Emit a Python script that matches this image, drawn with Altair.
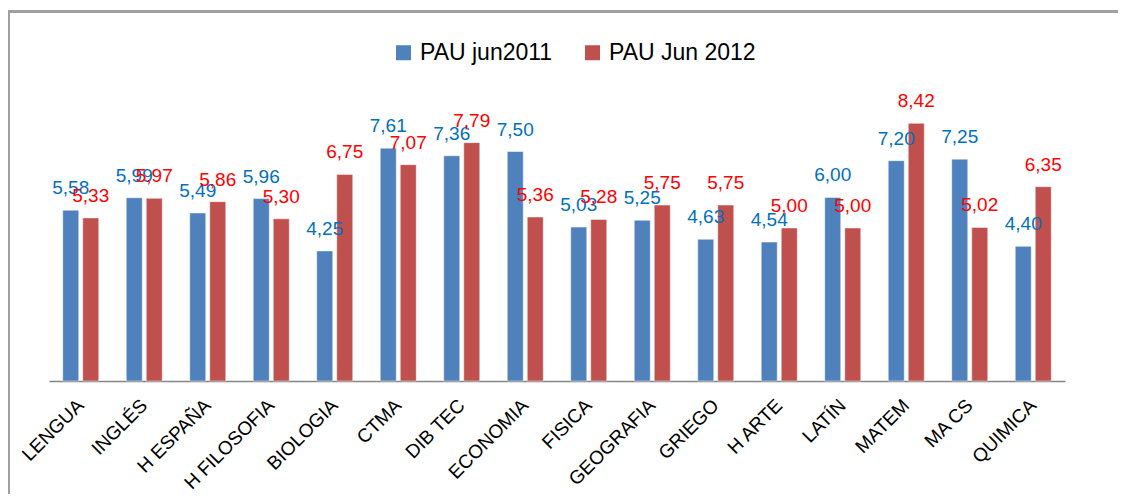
import altair as alt
import pandas as pd

categories = ["LENGUA", "INGLÉS", "H ESPAÑA", "H FILOSOFIA", "BIOLOGIA", "CTMA",
              "DIB TEC", "ECONOMIA", "FISICA", "GEOGRAFIA", "GRIEGO", "H ARTE",
              "LATÍN", "MATEM", "MA CS", "QUIMICA"]
series_names = ["PAU jun2011", "PAU Jun 2012"]
pau_2011 = [5.58, 5.99, 5.49, 5.96, 4.25, 7.61, 7.36, 7.50, 5.03, 5.25, 4.63, 4.54,
            6.00, 7.20, 7.25, 4.40]
pau_2012 = [5.33, 5.97, 5.86, 5.30, 6.75, 7.07, 7.79, 5.36, 5.28, 5.75, 5.75, 5.00,
            5.00, 8.42, 5.02, 6.35]

rows = []
for c, a, b in zip(categories, pau_2011, pau_2012):
    rows.append({"cat": c, "serie": series_names[0], "v": a})
    rows.append({"cat": c, "serie": series_names[1], "v": b})
df = pd.DataFrame(rows)

FONT = "Liberation Sans"
bar_colors = ["#4F81BD", "#C0504D"]
label_colors = ["#0070C0", "#FF0000"]

x = alt.X("cat:N", sort=categories,
          scale=alt.Scale(paddingInner=0.433, paddingOuter=0.2165),
          axis=alt.Axis(title=None, labelAngle=-45, labelAlign="right",
                        labelBaseline="middle", labelPadding=21, ticks=False,
                        labelFont=FONT, labelFontSize=19, labelColor="#000000",
                        domainColor="#868686", domainWidth=1.5))
xoff = alt.XOffset("serie:N", sort=series_names,
                   scale=alt.Scale(paddingInner=0.2, paddingOuter=0))
y = alt.Y("v:Q", scale=alt.Scale(domain=[0, 10]), axis=None)

bars = alt.Chart(df).mark_bar(stroke="#ffffff", strokeWidth=0.8, strokeOpacity=0.6).encode(
    x=x, xOffset=xoff, y=y,
    color=alt.Color("serie:N",
                    scale=alt.Scale(domain=series_names, range=bar_colors),
                    legend=alt.Legend(title=None, orient="none", direction="horizontal",
                                      legendX=343, legendY=-34, padding=0,
                                      symbolType="square", symbolSize=225,
                                      symbolStrokeWidth=0, labelOffset=5,
                                      columnPadding=28, labelFont=FONT,
                                      labelFontSize=23, labelColor="#000000")),
)

labels = alt.Chart(df).transform_calculate(
    txt="replace(format(datum.v, '.2f'), '.', ',')"
).mark_text(font=FONT, fontSize=19, baseline="alphabetic", dy=-16).encode(
    x=x, xOffset=xoff, y=y,
    text="txt:N",
    color=alt.Color("serie:N",
                    scale=alt.Scale(domain=series_names, range=label_colors),
                    legend=None),
)

border_top = alt.Chart(df).mark_rule(color="#a0a0a0", strokeWidth=2).encode(
    x=alt.value(-41), x2=alt.value(1069), y=alt.value(-63.5))
border_left = alt.Chart(df).mark_rule(color="#a0a0a0", strokeWidth=2).encode(
    x=alt.value(-40), y=alt.value(-64.5), y2=alt.value(419))

chart = alt.layer(border_top, border_left, bars, labels).resolve_scale(
    color="independent"
).properties(
    width=1016, height=306,
    autosize=alt.AutoSizeParams(type="none"),
    padding={"left": 41, "top": 67, "right": 53, "bottom": 113},
    background="#ffffff",
).configure_view(stroke=None)

chart.save("out.html", embed_options={"renderer": "svg", "actions": False})
